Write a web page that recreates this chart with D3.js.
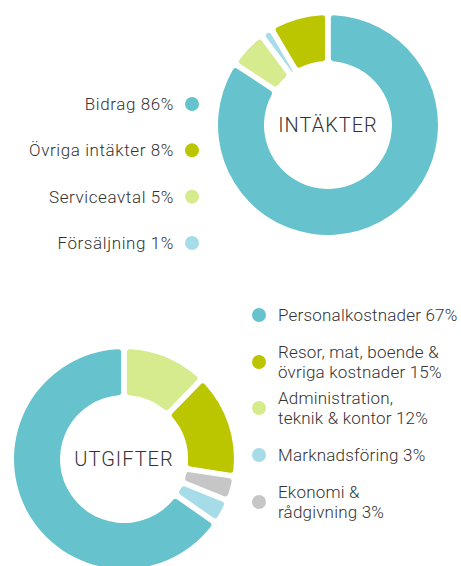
<!DOCTYPE html>
<html>
<head>
<meta charset="utf-8">
<script src="https://cdn.jsdelivr.net/npm/d3@7"></script>
<style>
  body { margin: 0; background: #fff; }
  text { font-family: Roboto, "Open Sans", sans-serif; fill: #333; }
</style>
</head>
<body>
<svg id="chart" width="461" height="566"></svg>
<script>
// Intäkter (clockwise from top)
const incomeLabels = ["Bidrag 86%", "Serviceavtal 5%", "Försäljning 1%", "Övriga intäkter 8%"];
const incomeValues = [86, 5, 1, 8];
const incomeColors = ["#66c2cc", "#d5eb8e", "#a6dce8", "#bcc600"];
// legend order for intäkter
const incomeLegend = ["Bidrag 86%", "Övriga intäkter 8%", "Serviceavtal 5%", "Försäljning 1%"];

// Utgifter (clockwise from top)
const costLabels = ["Administration, teknik & kontor 12%", "Resor, mat, boende & övriga kostnader 15%",
    "Ekonomi & rådgivning 3%", "Marknadsföring 3%", "Personalkostnader 67%"];
const costValues = [12, 15, 3, 3, 67];
const costColors = ["#d5eb8e", "#bcc600", "#c6c6c6", "#a6dce8", "#66c2cc"];
// legend rows (lines) for utgifter
const costLegend = [
    ["Personalkostnader 67%"],
    ["Resor, mat, boende &", "övriga kostnader 15%"],
    ["Administration,", "teknik & kontor 12%"],
    ["Marknadsföring 3%"],
    ["Ekonomi &", "rådgivning 3%"]
];
const costLegendColors = ["#66c2cc", "#bcc600", "#d5eb8e", "#a6dce8", "#c6c6c6"];

const svg = d3.select("#chart");
const colorOf = (labels, colors) => d3.scaleOrdinal().domain(labels).range(colors);

function donut(cx, cy, labels, values, colors, title) {
    const color = colorOf(labels, colors);
    const pie = d3.pie().sort(null).value((d, i) => values[i]).padAngle(0.045);
    const arc = d3.arc().innerRadius(64).outerRadius(110).cornerRadius(3);
    const g = svg.append("g").attr("transform", `translate(${cx},${cy})`);
    g.selectAll("path")
        .data(pie(labels))
        .enter()
        .append("path")
        .attr("d", arc)
        .attr("fill", d => color(d.data));
    g.append("text")
        .attr("text-anchor", "middle")
        .attr("dy", "0.35em")
        .style("font-size", "20px")
        .style("font-weight", 300)
        .style("letter-spacing", "1px")
        .text(title);
}

donut(328, 125, incomeLabels, incomeValues, incomeColors, "INTÄKTER");
donut(124, 459, costLabels, costValues, costColors, "UTGIFTER");

// top legend (text right aligned, dot on the right)
const incColor = colorOf(incomeLabels, incomeColors);
const legTop = svg.append("g");
const yTop = d3.scalePoint().domain(incomeLegend).range([104, 243]);
legTop.selectAll("circle")
    .data(incomeLegend)
    .enter()
    .append("circle")
    .attr("cx", 192)
    .attr("cy", d => yTop(d))
    .attr("r", 7)
    .attr("fill", d => incColor(d));
legTop.selectAll("text")
    .data(incomeLegend)
    .enter()
    .append("text")
    .attr("x", 174)
    .attr("y", d => yTop(d))
    .attr("dy", "0.35em")
    .attr("text-anchor", "end")
    .style("font-size", "17px")
    .style("font-weight", 300)
    .style("letter-spacing", "0.6px")
    .text(d => d);

// bottom legend
const rowY = [315, 362, 408, 455, 502];
const legBot = svg.append("g");
legBot.selectAll("circle")
    .data(costLegend)
    .enter()
    .append("circle")
    .attr("cx", 259)
    .attr("cy", (d, i) => rowY[i])
    .attr("r", 7)
    .attr("fill", (d, i) => costLegendColors[i]);
legBot.selectAll("text")
    .data(costLegend)
    .enter()
    .append("text")
    .attr("x", 278)
    .attr("y", (d, i) => rowY[i] - (d.length - 1) * 10)
    .style("font-size", "17px")
    .style("font-weight", 300)
    .style("letter-spacing", "0.2px")
    .each(function(d) {
        d3.select(this).selectAll("tspan")
            .data(d)
            .enter()
            .append("tspan")
            .attr("x", 278)
            .attr("dy", (t, j) => j === 0 ? "0.35em" : "20px")
            .text(t => t);
    });
</script>
</body>
</html>
